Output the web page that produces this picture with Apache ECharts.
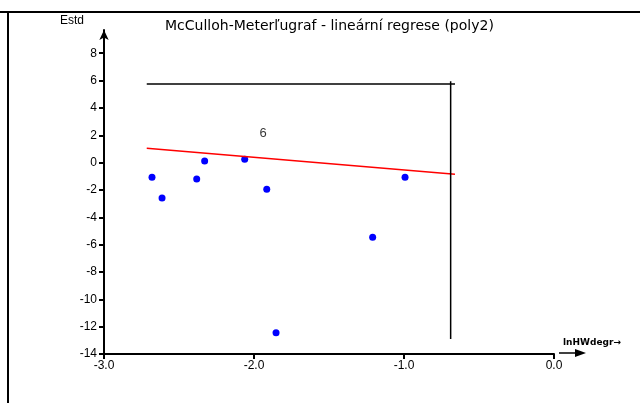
<!DOCTYPE html>
<html><head><meta charset="utf-8">
<script src="https://cdn.jsdelivr.net/npm/echarts@6/dist/echarts.min.js"></script>
<style>html,body{margin:0;padding:0;background:#fff}#c{width:640px;height:403px}</style>
</head><body><div id="c"></div>
<script>
// data
const pointsX = [-2.68, -2.613, -2.382, -2.329, -2.062, -1.915, -1.853, -1.209, -0.993];
const pointsY = [-1.07, -2.59, -1.2, 0.12, 0.24, -1.95, -12.45, -5.46, -1.07];
const fitX = [-2.715, -0.66];
const fitY = [1.05, -0.86];
const limitHX = [-2.715, -0.66];
const limitHY = [5.75, 5.75];
const limitVX = [-0.689, -0.689];
const limitVY = [5.96, -12.9];
const noteX = [-1.94];
const noteY = [2.15];
const noteText = ['6'];
const yTicks = [-14, -12, -10, -8, -6, -4, -2, 0, 2, 4, 6, 8];
const xTicks = [-3, -2, -1, 0];
const titleText = 'McCulloh-Meterľugraf - lineární regrese (poly2)';
const yName = 'Estd';
const xName = 'lnHWdegr→';

const zip = (a, b) => a.map((v, i) => [v, b[i]]);
const chart = echarts.init(document.getElementById('c'), null, {renderer: 'canvas'});
const font = 'Liberation Sans, Arial, sans-serif';
chart.setOption({
  animation: false,
  backgroundColor: '#fff',
  title: {text: titleText, left: 160, top: 14, textStyle: {fontFamily: 'DejaVu Sans', fontSize: 14, fontWeight: 'normal', color: '#000'}},
  grid: {left: 104, right: 86, top: 30, bottom: 49, containLabel: false},
  xAxis: {
    type: 'value', min: -3, max: 0, interval: 1,
    axisLine: {show: true, onZero: false, lineStyle: {color: '#000', width: 2}},
    axisTick: {show: true, length: 5, lineStyle: {color: '#000', width: 2}},
    axisLabel: {color: '#000', fontFamily: font, fontSize: 12, margin: 6, formatter: v => v.toFixed(1)},
    splitLine: {show: false},
    name: xName, nameLocation: 'end', nameGap: 9,
    nameTextStyle: {color: '#000', fontFamily: 'DejaVu Sans', fontSize: 9, fontWeight: 'bold', verticalAlign: 'bottom', padding: [0, 0, 7, 0]}
  },
  yAxis: {
    type: 'value', min: -14, max: 9.7, interval: 2,
    axisLine: {show: true, onZero: false, symbol: ['none', 'arrow'], symbolSize: [7, 10], lineStyle: {color: '#000', width: 2}},
    axisTick: {show: true, length: 5, customValues: yTicks, lineStyle: {color: '#000', width: 2}},
    axisLabel: {color: '#000', fontFamily: font, fontSize: 12, margin: 7, customValues: yTicks},
    splitLine: {show: false},
    name: yName, nameLocation: 'end', nameGap: 3,
    nameTextStyle: {color: '#000', fontFamily: font, fontSize: 12, align: 'right', padding: [0, 20, 0, 0]}
  },
  graphic: [
    {type: 'line', shape: {x1: 0, y1: 12, x2: 640, y2: 12}, style: {stroke: '#000', lineWidth: 2}},
    {type: 'line', shape: {x1: 8, y1: 12, x2: 8, y2: 403}, style: {stroke: '#000', lineWidth: 2}},
    {type: 'line', shape: {x1: 559, y1: 353, x2: 577, y2: 353}, style: {stroke: '#000', lineWidth: 1.5}},
    {type: 'polygon', shape: {points: [[575, 349], [586, 353], [575, 357]]}, style: {fill: '#000'}}
  ],
  series: [
    {type: 'line', data: zip(fitX, fitY), showSymbol: false, lineStyle: {color: '#ff0000', width: 1.5}, silent: true},
    {type: 'line', data: zip(limitHX, limitHY), showSymbol: false, lineStyle: {color: '#000', width: 1.5}, silent: true},
    {type: 'line', data: zip(limitVX, limitVY), showSymbol: false, lineStyle: {color: '#000', width: 1.5}, silent: true},
    {type: 'scatter', data: zip(pointsX, pointsY), symbol: 'circle', symbolSize: 7, itemStyle: {color: '#0000ff', opacity: 1}},
    {type: 'scatter', data: noteX.map((x, i) => ({value: [x, noteY[i]], name: noteText[i]})), symbolSize: 0,
     label: {show: true, position: 'inside', formatter: p => p.name, color: '#000', fontFamily: font, fontSize: 13}}
  ]
});
</script></body></html>
